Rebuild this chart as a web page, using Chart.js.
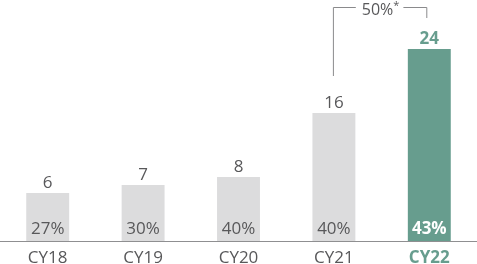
<!DOCTYPE html>
<html>
<head>
<meta charset="utf-8">
<script src="https://cdn.jsdelivr.net/npm/chart.js@4"></script>
<style>
  html, body { margin: 0; padding: 0; background: #fff; }
  #wrap { width: 477px; height: 264px; }
</style>
</head>
<body>
<div id="wrap"><canvas id="myChart"></canvas></div>
<script>
const categories = ['CY18', 'CY19', 'CY20', 'CY21', 'CY22'];
const values = [6, 7, 8, 16, 24];
const shares = ['27%', '30%', '40%', '40%', '43%'];
const growthLabel = '50%';
const growthNote = '*';

const grey = '#dcdcdd';
const green = '#679d8e';
const textGrey = '#58585a';
const FONT = "'Open Sans', sans-serif";

const barColors = categories.map((c, i) => i === categories.length - 1 ? green : grey);

const labelPlugin = {
    id: 'labels',
    afterDatasetsDraw(chart) {
        const ctx = chart.ctx;
        const meta = chart.getDatasetMeta(0);
        const last = meta.data.length - 1;
        ctx.save();
        ctx.textAlign = 'center';
        meta.data.forEach((bar, i) => {
            const hl = i === last;
            // value above the bar
            ctx.font = (hl ? 'bold ' : '') + '17px ' + FONT;
            ctx.fillStyle = hl ? green : textGrey;
            ctx.textBaseline = 'alphabetic';
            ctx.fillText(values[i], bar.x, bar.y - 5);
            // share inside the bar
            ctx.font = (hl ? 'bold ' : '') + '17px ' + FONT;
            ctx.fillStyle = hl ? '#ffffff' : textGrey;
            ctx.fillText(shares[i], bar.x, bar.base - 7);
        });

        // growth bracket CY21 -> CY22
        const a = meta.data[last - 1], b = meta.data[last];
        const topY = 7;
        ctx.strokeStyle = '#8a8a8c';
        ctx.lineWidth = 1;
        ctx.font = '16px ' + FONT;
        const w1 = ctx.measureText(growthLabel).width;
        ctx.font = '11px ' + FONT;
        const w2 = ctx.measureText(growthNote).width;
        const tw = w1 + w2;
        const mid = (a.x + b.x) / 2 - 1;
        ctx.beginPath();
        ctx.moveTo(a.x - 0.5, a.y - 37);
        ctx.lineTo(a.x - 0.5, topY + 0.5);
        ctx.lineTo(mid - tw / 2 - 6, topY + 0.5);
        ctx.moveTo(mid + tw / 2 + 4, topY + 0.5);
        ctx.lineTo(b.x - 2.5, topY + 0.5);
        ctx.lineTo(b.x - 2.5, b.y - 31);
        ctx.stroke();
        ctx.fillStyle = textGrey;
        ctx.textAlign = 'left';
        ctx.textBaseline = 'alphabetic';
        ctx.font = '16px ' + FONT;
        ctx.fillText(growthLabel, mid - tw / 2, topY + 8);
        ctx.font = '11px ' + FONT;
        ctx.fillText(growthNote, mid - tw / 2 + w1, topY + 2);
        ctx.restore();
    }
};

new Chart(document.getElementById('myChart'), {
    type: 'bar',
    data: {
        labels: categories,
        datasets: [{
            data: values,
            backgroundColor: barColors,
            barPercentage: 0.45,
            categoryPercentage: 1
        }]
    },
    options: {
        responsive: true,
        maintainAspectRatio: false,
        animation: false,
        layout: { padding: { top: 1, left: 0, right: 0, bottom: 0 } },
        plugins: { legend: { display: false }, tooltip: { enabled: false } },
        scales: {
            x: {
                grid: { display: false, drawTicks: false },
                border: { display: true, color: '#8f8f91', width: 1 },
                afterFit: (scale) => { scale.height = 23; },
                ticks: {
                    padding: 7,
                    color: (c) => c.index === categories.length - 1 ? green : textGrey,
                    font: (c) => ({ family: FONT, size: 17, weight: c.index === categories.length - 1 ? 'bold' : 'normal' })
                }
            },
            y: {
                display: false,
                min: 0,
                max: 30
            }
        }
    },
    plugins: [labelPlugin]
});
</script>
</body>
</html>
